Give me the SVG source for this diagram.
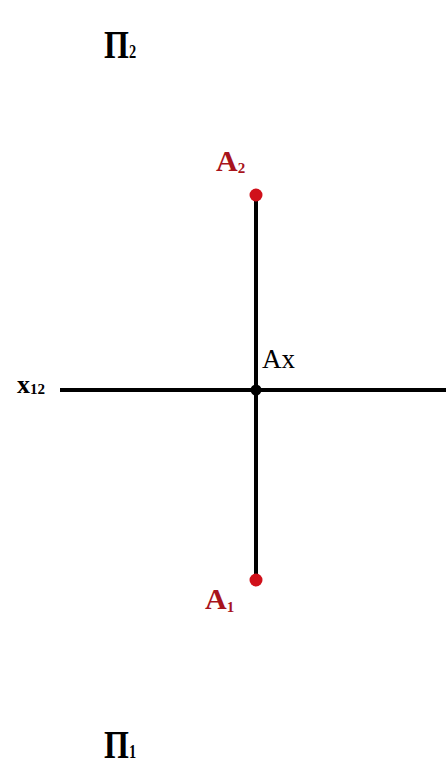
<svg xmlns="http://www.w3.org/2000/svg" width="446" height="769" viewBox="0 0 446 769">
<style>
.lbl{font-family:"Liberation Serif","DejaVu Serif",serif;font-weight:bold;fill:#000}
.red{font-family:"Liberation Serif","DejaVu Serif",serif;font-weight:bold;fill:#a8141c}
.ln{stroke:#000;stroke-width:4;fill:none}
</style>
<rect width="446" height="769" fill="#fff"/>
<g id="connectors">
<line class="ln" x1="256" y1="195" x2="256" y2="580"/>
<line class="ln" x1="60" y1="390" x2="446" y2="390"/>
</g>
<g id="plane2"><text class="lbl" transform="translate(104,58) scale(0.8,1)" font-size="40">П<tspan font-size="18">2</tspan></text></g>
<g id="A2"><circle cx="256" cy="195" r="6.5" fill="#d0101a"/><text class="red" x="216" y="171" font-size="30">A<tspan font-size="15" dy="2">2</tspan></text></g>
<g id="x12"><text class="lbl" x="17" y="393" font-size="26">x<tspan font-size="15" dy="1">12</tspan></text></g>
<g id="Ax"><circle cx="256" cy="390" r="5.5" fill="#000"/><text x="262" y="368" font-size="27" font-family="Liberation Serif,serif" fill="#000">Ax</text></g>
<g id="A1"><circle cx="256" cy="580" r="6.5" fill="#d0101a"/><text class="red" x="205" y="609" font-size="30">A<tspan font-size="15" dy="3">1</tspan></text></g>
<g id="plane1"><text class="lbl" transform="translate(104,758) scale(0.8,1)" font-size="40">П<tspan font-size="18">1</tspan></text></g>
</svg>
